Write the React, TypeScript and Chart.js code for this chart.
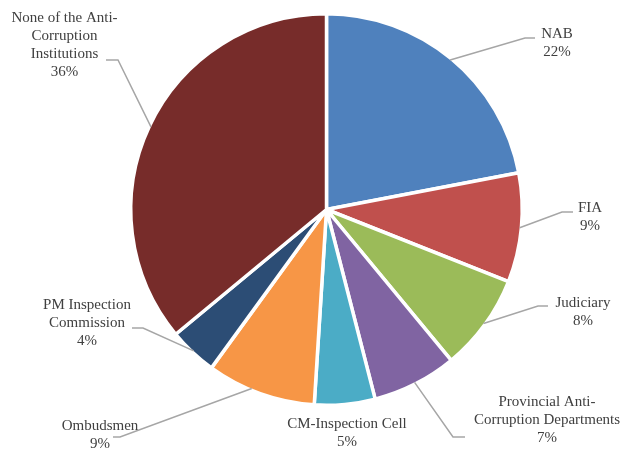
import React, { useEffect, useRef } from "react";
import { Chart, registerables } from "chart.js";

Chart.register(...registerables);

const categories: string[] = [
  "NAB",
  "FIA",
  "Judiciary",
  "Provincial Anti-\nCorruption Departments",
  "CM-Inspection Cell",
  "Ombudsmen",
  "PM Inspection\nCommission",
  "None of the Anti-\nCorruption\nInstitutions",
];

const shares: number[] = [22, 9, 8, 7, 5, 9, 4, 36];

const sliceColors: string[] = [
  "#4F81BD",
  "#C0504D",
  "#9BBB59",
  "#8064A2",
  "#4BACC6",
  "#F79646",
  "#2C4D75",
  "#772C2A",
];

// label layout relative to the pie centre: text centre (tx, ty), elbow (ex, ey), horizontal end x (hx)
const labelLayout = [
  { tx: 230.5, ty: -175.5, ex: 198.5, ey: -171.5, hx: 208.5, leader: true, shift: 0 },
  { tx: 263.5, ty: -1.5, ex: 235.5, ey: 2.5, hx: 246.5, leader: true, shift: 0 },
  { tx: 256.5, ty: 93.5, ex: 211.5, ey: 96.5, hx: 221.5, leader: true, shift: 0 },
  { tx: 220.5, ty: 192.5, ex: 126.5, ey: 227.5, hx: 138.5, leader: true, shift: 0 },
  { tx: 20.5, ty: 214.5, ex: 0, ey: 0, hx: 0, leader: false, shift: 0 },
  { tx: -226.5, ty: 216.5, ex: -206.5, ey: 227.5, hx: -213.5, leader: true, shift: 0.05 },
  { tx: -239.5, ty: 95.5, ex: -183.5, ey: 118.5, hx: -194.5, leader: true, shift: 0 },
  { tx: -262, ty: -191.5, ex: -208.5, ey: -149.5, hx: -220.5, leader: true, shift: 0 },
];

const BORDER = 3.5;

const labelPlugin = {
  id: "pieLabels",
  afterDatasetsDraw(chart: any) {
    const ctx = chart.ctx;
    const meta = chart.getDatasetMeta(0);
    const data = chart.data.datasets[0].data as number[];
    const total = data.reduce((a, b) => a + b, 0);
    ctx.save();
    meta.data.forEach((arc: any, i: number) => {
      const lay = labelLayout[i];
      const { x, y, startAngle, endAngle, outerRadius } = arc.getProps(
        ["x", "y", "startAngle", "endAngle", "outerRadius"],
        true
      );
      const mid = (startAngle + endAngle) / 2 + lay.shift;
      const r = outerRadius - BORDER / 2;
      if (lay.leader) {
        ctx.beginPath();
        ctx.strokeStyle = "#A6A6A6";
        ctx.lineWidth = 1.5;
        ctx.moveTo(x + Math.cos(mid) * r, y + Math.sin(mid) * r);
        ctx.lineTo(x + lay.ex, y + lay.ey);
        ctx.lineTo(x + lay.hx, y + lay.ey);
        ctx.stroke();
      }
      const lines = String(chart.data.labels[i]).split("\n");
      lines.push(Math.round((data[i] / total) * 100) + "%");
      ctx.fillStyle = "#404040";
      ctx.font = '15px "Liberation Serif", "Times New Roman", serif';
      ctx.textAlign = "center";
      ctx.textBaseline = "middle";
      lines.forEach((t, k) => {
        ctx.fillText(t, x + lay.tx, y + lay.ty + k * 18);
      });
    });
    ctx.restore();
  },
};

export default function App() {
  const ref = useRef<HTMLCanvasElement>(null);
  useEffect(() => {
    if (!ref.current) return;
    const chart = new Chart(ref.current, {
      type: "pie",
      data: {
        labels: categories,
        datasets: [
          {
            data: shares,
            backgroundColor: sliceColors,
            borderColor: "#FFFFFF",
            borderWidth: BORDER,
          },
        ],
      },
      options: {
        animation: false,
        responsive: false,
        devicePixelRatio: 1,
        layout: {
          padding: { left: 129, right: 106, top: 12, bottom: 42 },
        },
        plugins: {
          legend: { display: false },
          tooltip: { enabled: false },
        },
      },
      plugins: [labelPlugin],
    });
    return () => chart.destroy();
  }, []);
  return (
    <div style={{ position: "absolute", left: 0, top: 0, width: 630, height: 449, background: "#fff" }}>
      <canvas ref={ref} width={630} height={449} />
    </div>
  );
}
